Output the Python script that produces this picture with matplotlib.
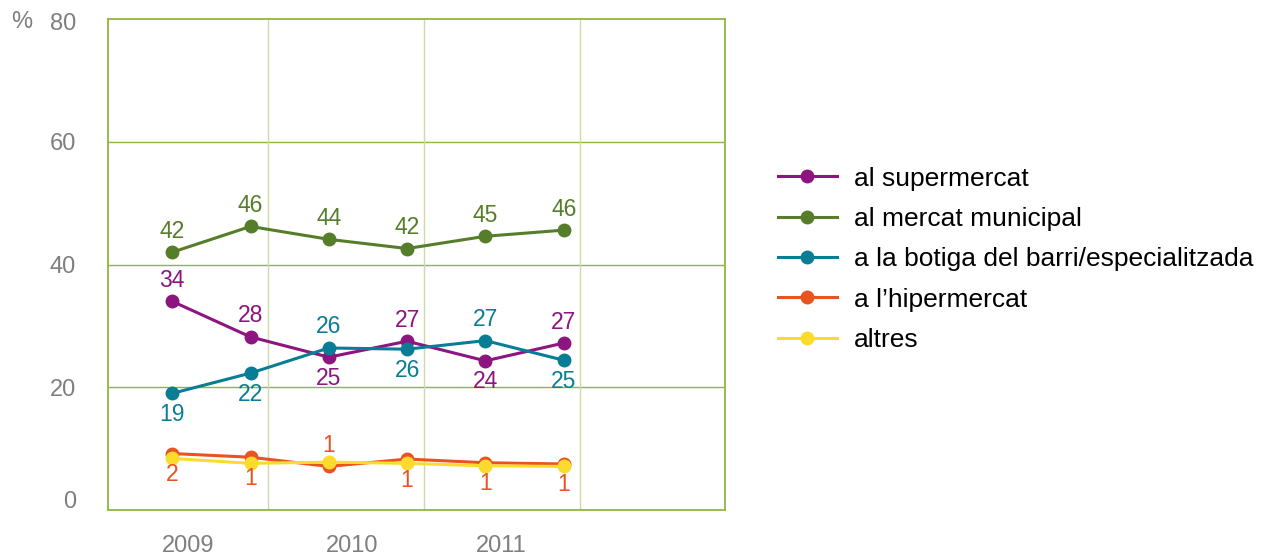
import numpy as np
import matplotlib
matplotlib.use('Agg')
import matplotlib.pyplot as plt
from matplotlib.transforms import ScaledTranslation

plt.rcParams['font.family'] = ['Liberation Sans', 'DejaVu Sans']

# data
years = ['2009', '2010', '2011']
series_names = ['al supermercat', 'al mercat municipal',
                'a la botiga del barri/especialitzada', "a l\u2019hipermercat", 'altres']
supermercat = [34.0, 28.2, 24.9, 27.5, 24.3, 27.2]
mercat = [42.0, 46.2, 44.1, 42.6, 44.6, 45.6]
botiga = [19.0, 22.3, 26.4, 26.2, 27.6, 24.4]
hipermercat = [9.2, 8.6, 7.1, 8.3, 7.7, 7.5]
altres = [8.4, 7.6, 7.8, 7.6, 7.2, 7.1]

lbl_super = ['34', '28', '25', '27', '24', '27']
lbl_mercat = ['42', '46', '44', '42', '45', '46']
lbl_botiga = ['19', '22', '26', '26', '27', '25']
lbl_hiper = ['2', '1', '1', '1', '1', '1']

# +1 above the point, -1 below
pos_super = [1, 1, -1, 1, -1, 1]
pos_mercat = [1, 1, 1, 1, 1, 1]
pos_botiga = [-1, -1, 1, -1, 1, -1]
pos_hiper = [-1, -1, 1, -1, -1, -1]

colors = ['#8c157f', '#567d2a', '#0a7d96', '#e8531f', '#fcdb2e']
grid_h = '#8fb740'
grid_v = '#c9dca3'
gray = '#7f7f7f'

fig = plt.figure(figsize=(12.63, 5.55), dpi=100)
ax = fig.add_axes([108/1263, 1-510/555, (725-108)/1263, (510-19)/555])

x = np.arange(len(supermercat))
allser = [supermercat, mercat, botiga, hipermercat, altres]
for vals, name, c in zip(allser, series_names, colors):
    ax.plot(x, vals, '-o', color=c, lw=2.2, ms=9, label=name, zorder=3)

def add_labels(vals, labels, pos, c):
    for xi, v, t, p in zip(x, vals, labels, pos):
        ax.annotate(t, (xi, v), xytext=(0, 21*p), textcoords='offset pixels',
                    ha='center', va='center', color=c, fontsize=16.5, zorder=4)

add_labels(supermercat, lbl_super, pos_super, colors[0])
add_labels(mercat, lbl_mercat, pos_mercat, colors[1])
add_labels(botiga, lbl_botiga, pos_botiga, colors[2])
add_labels(hipermercat, lbl_hiper, pos_hiper, colors[3])

ax.set_xlim(-0.82, 7.06)
ax.set_ylim(0, 80)
ax.set_yticks([0, 20, 40, 60, 80])
for y in [20, 40, 60]:
    ax.axhline(y, color=grid_h, lw=1.0, zorder=1)
for xv in [1.22, 3.21, 5.21]:
    ax.axvline(xv, color=grid_v, lw=1.0, zorder=1)
for s in ax.spines.values():
    s.set_color(grid_h)
    s.set_linewidth(1.3)

ax.set_xticks([0.2, 2.3, 4.2])
ax.set_xticklabels(years)
ax.tick_params(axis='x', length=0, pad=18, labelsize=17, labelcolor=gray)
ax.tick_params(axis='y', length=0, pad=23, labelsize=17, labelcolor=gray)

# nudge the end labels as in the original
ylabs = ax.get_yticklabels()
ylabs[0].set_transform(ylabs[0].get_transform() + ScaledTranslation(0, 0.10, fig.dpi_scale_trans))
ylabs[-1].set_transform(ylabs[-1].get_transform() + ScaledTranslation(0, -0.03, fig.dpi_scale_trans))

fig.text(22/1263, 1-22/555, '%', ha='center', va='center', fontsize=17, color=gray)

ax.legend(loc='upper left', bbox_to_anchor=(767/1263, 1-156/555),
          bbox_transform=fig.transFigure, frameon=False, fontsize=19,
          handlelength=2.25, handletextpad=0.64, labelspacing=0.62,
          borderaxespad=0)

fig.savefig('out.png', dpi=100)
